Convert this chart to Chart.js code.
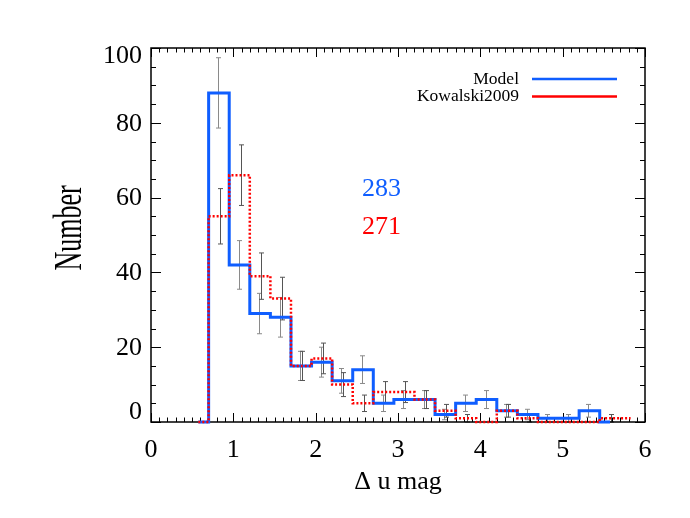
<!DOCTYPE html>
<html>
<head>
<meta charset="utf-8">
<script src="https://cdn.jsdelivr.net/npm/chart.js@4.4.0/dist/chart.umd.min.js"></script>
<style>
  html, body { margin: 0; padding: 0; background: #fff; }
</style>
</head>
<body>
<canvas id="histChart" width="690" height="518"></canvas>
<script>
// bin centres (bins of 0.25 mag starting at 0.7)
const binCenters = [0.575, 0.825, 1.075, 1.325, 1.575, 1.825, 2.075, 2.325, 2.575, 2.825, 3.075,
                    3.325, 3.575, 3.825, 4.075, 4.325, 4.575, 4.825, 5.075, 5.325, 5.575, 5.825];
const modelCounts    = [0, 88, 42, 29, 28, 15, 16, 11, 14, 5, 6, 6, 2, 5, 6, 3, 2, 1, 1, 3, 0];
const kowalskiCounts = [0, 55, 66, 39, 33, 15, 17, 10, 5, 8, 8, 6, 3, 1, 0, 3, 1, 0, 0, 0, 1, 1];
const modelErr    = [0, 9.4, 6.5, 5.4, 5.3, 3.9, 4.0, 3.3, 3.7, 2.2, 2.4, 2.4, 1.4, 2.2, 2.4, 1.7, 1.4, 1.0, 1.0, 1.7, 0];
const kowalskiErr = [0, 7.4, 8.1, 6.2, 5.7, 3.9, 4.1, 3.2, 2.2, 2.8, 2.8, 2.4, 1.7, 1.0, 0, 1.7, 1.0, 0, 0, 0, 1.0];

const yTickValues = [0, 20, 40, 60, 80, 100];
const yTickLabels = ['0', '20', '40', '60', '80', '100'];
const legendLabels = ['Model', 'Kowalski2009'];
const totals = ['283', '271'];

const BLUE = '#0f5eff';
const RED = '#ff0000';
const SERIF = '"Liberation Serif", "DejaVu Serif", serif';

function toPoints(xs, ys) {
  return ys.map((y, i) => ({ x: xs[i], y: y }));
}

// Error bars, box, ticks, labels, legend (IDL style)
const idlPlot = {
  id: 'idlPlot',
  beforeDatasetsDraw(chart) {
    const ctx = chart.ctx;
    const xs = chart.scales.x, ys = chart.scales.y;
    const a = chart.chartArea;

    // error bars
    const drawErr = (vals, errs, color, dx) => {
      ctx.save();
      ctx.strokeStyle = color;
      ctx.lineWidth = 1;
      errs.forEach((e, i) => {
        if (!e) return;
        const px = Math.round(xs.getPixelForValue(binCenters[i])) + dx;
        const y1 = ys.getPixelForValue(vals[i] + e);
        const y2 = ys.getPixelForValue(vals[i] - e);
        ctx.beginPath();
        ctx.moveTo(px, y1); ctx.lineTo(px, y2);
        ctx.moveTo(px - 2.5, y1); ctx.lineTo(px + 2.5, y1);
        ctx.moveTo(px - 2.5, y2); ctx.lineTo(px + 2.5, y2);
        ctx.stroke();
      });
      ctx.restore();
    };
    drawErr(modelCounts, modelErr, '#8a8a8a', -0.5);
    drawErr(kowalskiCounts, kowalskiErr, '#555555', 1.5);

    // box
    ctx.save();
    ctx.strokeStyle = '#000';
    ctx.lineWidth = 1.5;
    ctx.strokeRect(a.left, a.top, a.right - a.left, a.bottom - a.top);

    // ticks (inward, all four sides)
    ctx.lineWidth = 1;
    ctx.beginPath();
    for (let k = 0; k <= 60; k++) {
      const v = k / 10;
      const px = Math.round(xs.getPixelForValue(v)) + 0.5;
      const len = (k % 10 === 0) ? 9 : 4.5;
      ctx.moveTo(px, a.bottom); ctx.lineTo(px, a.bottom - len);
      ctx.moveTo(px, a.top); ctx.lineTo(px, a.top + len);
    }
    for (let v = 0; v <= 100; v += 5) {
      const py = Math.round(ys.getPixelForValue(v)) + 0.5;
      const len = (v % 20 === 0) ? 10 : 5;
      ctx.moveTo(a.left, py); ctx.lineTo(a.left + len, py);
      ctx.moveTo(a.right, py); ctx.lineTo(a.right - len, py);
    }
    ctx.stroke();
    ctx.restore();
  },
  afterDraw(chart) {
    const ctx = chart.ctx;
    const xs = chart.scales.x, ys = chart.scales.y;
    const a = chart.chartArea;
    ctx.save();

    // y tick labels (end labels pulled inside like IDL)
    ctx.fillStyle = '#000';
    ctx.font = '26px ' + SERIF;
    ctx.textAlign = 'right';
    ctx.textBaseline = 'middle';
    yTickValues.forEach((v, i) => {
      let off = 1;
      if (i === 0) off = -10;
      if (i === yTickValues.length - 1) off = 8.5;
      ctx.fillText(yTickLabels[i], a.left - 9, ys.getPixelForValue(v) + off);
    });

    // y title, stretched across like the original
    ctx.save();
    ctx.translate(71, 228);
    ctx.rotate(-Math.PI / 2);
    ctx.scale(1, 1.5);
    ctx.textAlign = 'center';
    ctx.textBaseline = 'middle';
    ctx.font = '26px ' + SERIF;
    ctx.fillText('Number', 0, 0);
    ctx.restore();

    // totals
    ctx.textAlign = 'center';
    ctx.fillStyle = BLUE;
    ctx.fillText(totals[0], xs.getPixelForValue(2.8), ys.getPixelForValue(62.2));
    ctx.fillStyle = RED;
    ctx.fillText(totals[1], xs.getPixelForValue(2.8), ys.getPixelForValue(52.2));

    // legend
    ctx.font = '17.5px ' + SERIF;
    ctx.textAlign = 'right';
    ctx.fillStyle = '#000';
    const rows = [[legendLabels[0], BLUE, 79], [legendLabels[1], RED, 96.5]];
    rows.forEach(r => {
      ctx.fillText(r[0], 519, r[2]);
      ctx.strokeStyle = r[1];
      ctx.lineWidth = 2.5;
      ctx.beginPath();
      ctx.moveTo(532, r[2]); ctx.lineTo(617, r[2]);
      ctx.stroke();
    });
    ctx.restore();
  }
};

const ctx = document.getElementById('histChart');
new Chart(ctx, {
  type: 'line',
  data: {
    datasets: [
      {
        label: legendLabels[1],
        data: toPoints(binCenters, kowalskiCounts),
        borderColor: RED,
        borderWidth: 2.5,
        borderDash: [2, 2],
        stepped: 'middle',
        pointRadius: 0,
        fill: false,
        clip: false,
        order: 0
      },
      {
        label: legendLabels[0],
        data: toPoints(binCenters, modelCounts),
        borderColor: BLUE,
        borderWidth: 3,
        stepped: 'middle',
        pointRadius: 0,
        fill: false,
        clip: false,
        order: 1
      }
    ]
  },
  options: {
    responsive: false,
    animation: false,
    devicePixelRatio: 1,
    layout: { padding: { top: 48, right: 45, left: 0, bottom: 0 } },
    plugins: {
      legend: { display: false },
      tooltip: { enabled: false }
    },
    scales: {
      x: {
        type: 'linear',
        min: 0,
        max: 6,
        grid: { display: false, drawTicks: false },
        border: { display: false },
        ticks: {
          stepSize: 1,
          color: '#000',
          padding: 13,
          maxRotation: 0,
          autoSkip: false,
          font: { family: SERIF, size: 26 }
        },
        title: {
          display: true,
          text: 'Δ u mag',
          color: '#000',
          font: { family: SERIF, size: 26 },
          padding: { top: 0, bottom: 20 }
        },
        afterFit: (scale) => { scale.height = 96; }
      },
      y: {
        min: 0,
        max: 100,
        grid: { display: false, drawTicks: false },
        border: { display: false },
        ticks: { display: false },
        afterFit: (scale) => { scale.width = 151; }
      }
    }
  },
  plugins: [idlPlot]
});
</script>
</body>
</html>
